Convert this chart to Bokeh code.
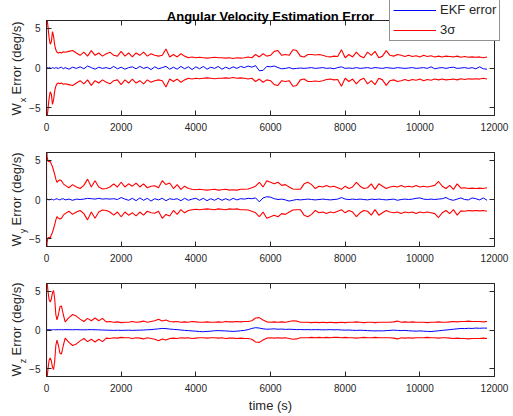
import math
from bokeh.plotting import figure
from bokeh.models import Range1d, LinearAxis, FixedTicker, Label, Legend, LegendItem
from bokeh.layouts import column
from bokeh.embed import file_html
from bokeh.resources import INLINE

# ---------------- data ----------------
x_ticks = [0, 2000, 4000, 6000, 8000, 10000, 12000]
y_ticks = [-5, 0, 5]

t_early = [0, 0, 15, 40, 70, 100, 130, 160, 190, 220, 250, 280, 320, 360, 400, 450]
t_main = list(range(500, 11801, 100))
time_s = t_early + t_main

# 3-sigma bound (upper); lower bound is its negative
sig_x = [-40, 40, 6.3, 5.2, 3.8, 3.0, 3.3, 4.6, 4.0, 2.9, 2.3, 2.0, 1.9, 2.0, 1.9, 2.05,
         2.0, 2.1, 2.2, 1.9, 1.6, 2.0, 1.5, 2.2, 1.6, 1.9,
         1.5, 1.8, 2.0, 1.6, 1.5, 2.1, 1.5, 1.9, 1.4, 1.9,
         1.6, 2.0, 1.5, 1.8, 1.6, 1.5, 1.6, 2.4, 1.4, 1.7,
         1.4, 1.8, 1.5, 1.3, 1.4, 1.3, 1.35, 1.3, 1.25, 1.3,
         1.35, 1.3, 1.3, 1.25, 1.3, 1.2, 1.3, 1.25, 1.3, 1.4,
         1.3, 1.7, 1.4, 1.8, 1.5, 1.6, 2.1, 2.2, 1.6, 1.7,
         1.6, 2.3, 2.2, 1.5, 1.4, 1.7, 1.7, 1.65, 1.7, 1.6,
         1.45, 1.4, 1.5, 1.45, 2.3, 1.3, 1.7, 1.4, 2.0, 1.5,
         1.3, 2.0, 1.6, 2.1, 1.3, 1.5, 2.2, 1.6, 1.5, 1.7,
         1.6, 1.45, 1.6, 1.45, 1.55, 1.4, 1.6, 1.45, 1.55, 1.4,
         1.5, 1.4, 1.5, 1.45, 1.4, 1.5, 1.35, 1.45, 1.35, 1.4,
         1.35, 1.4, 1.3, 1.4]
err_x = [0, 0, 0.1, -0.05, 0.05, 0, -0.05, 0.05, 0, -0.05, 0.05, 0, -0.05, 0.05, 0.1, -0.1,
         0.05, -0.15, 0.1, -0.05, 0.15, -0.1, 0.25, 0.05, -0.15, 0.1,
         -0.05, 0.05, -0.1, 0.2, -0.1, 0.1, -0.15, 0.05, 0.15, -0.1,
         0.2, -0.05, 0.1, -0.2, 0.15, -0.1, 0.05, 0.2, -0.15, 0.1,
         -0.15, 0.2, -0.1, 0.15, -0.2, 0.15, -0.1, 0.2, -0.15, 0.1,
         -0.05, 0.2, -0.15, 0.1, -0.1, 0.15, -0.05, 0.2, 0.05, 0.25,
         0.1, 0.3, -0.35, -0.3, 0.2, 0.15, 0.25, 0.05, -0.1, -0.05,
         0.05, -0.1, -0.05, 0.0, -0.05, 0.0, 0.05, -0.05, 0.0, 0.05,
         -0.05, 0.0, -0.1, 0.05, 0.15, -0.05, 0.0, -0.05, 0.05, -0.05,
         0.0, 0.05, -0.05, 0.05, 0.0, -0.05, 0.05, 0.0, -0.05, 0.05,
         0.0, -0.05, 0.0, 0.05, -0.05, 0.0, 0.05, -0.05, 0.15, -0.1,
         0.0, 0.05, -0.05, 0.05, 0.1, -0.05, 0.0, 0.05, -0.05, 0.05,
         -0.1, 0.15, -0.1, -0.15]

sig_y = [-40, 40, 5.5, 4.9, 4.8, 4.9, 4.5, 4.2, 3.7, 3.2, 2.6, 2.2, 2.4, 2.5, 2.4, 2.0,
         1.8, 1.5, 1.9, 1.6, 1.4, 1.8, 2.6, 1.6, 2.4, 1.6,
         1.35, 1.4, 1.6, 2.0, 1.6, 2.2, 1.6, 2.0, 1.7, 2.1,
         1.6, 2.0, 1.5, 1.7, 1.75, 1.5, 2.4, 1.9, 2.1, 1.4,
         1.9, 1.3, 1.7, 1.4, 1.3, 1.25, 1.3, 1.25, 1.2, 1.25,
         1.3, 1.2, 1.25, 1.3, 1.2, 1.25, 1.2, 1.3, 1.3, 1.35,
         1.5, 1.7, 2.2, 1.6, 2.4, 2.2, 2.0, 2.2, 1.8, 1.9,
         1.6, 1.35, 1.3, 1.3, 2.0, 2.2, 1.9, 1.4, 1.7, 1.6,
         1.8, 1.6, 1.7, 1.5, 1.3, 1.7, 1.4, 1.6, 2.2, 1.7,
         1.4, 1.5, 2.0, 1.3, 2.0, 1.7, 1.4, 1.6, 1.7, 1.6,
         1.8, 1.6, 1.7, 1.6, 1.8, 1.6, 1.7, 1.6, 1.7, 1.8,
         2.3, 1.7, 1.4, 1.8, 1.3, 2.0, 1.45, 1.5, 1.4, 1.45,
         1.4, 1.45, 1.4, 1.5]
err_y = [0, 0, 0.05, 0, -0.05, 0, 0.05, 0, -0.05, 0, 0.05, 0.1, 0, -0.05, 0.05, 0.1,
         -0.05, 0.05, -0.1, 0.05, 0.0, 0.05, 0.15, 0.1, 0.05, 0.15,
         0.05, 0.1, 0.05, 0.1, 0.0, 0.25, 0.05, -0.1, 0.15, -0.15,
         0.2, -0.1, 0.15, -0.2, 0.1, -0.05, 0.15, -0.15, 0.1, 0.0,
         0.1, -0.15, 0.15, -0.1, 0.05, 0.15, -0.1, 0.15, -0.15, 0.1,
         -0.1, 0.15, -0.1, 0.1, -0.1, 0.15, -0.05, 0.1, 0.05, 0.15,
         0.1, 0.2, -0.3, 0.2, 0.35, 0.3, 0.1, 0.0, 0.05, -0.05,
         -0.2, -0.1, 0.0, -0.05, 0.0, 0.05, 0.0, -0.05, 0.0, 0.05,
         0.0, -0.05, 0.0, 0.05, 0.25, 0.05, 0.0, 0.05, 0.0, 0.05,
         0.0, -0.05, 0.05, 0.0, 0.05, 0.0, -0.05, 0.0, 0.05, -0.1,
         0.0, 0.05, 0.0, 0.05, 0.15, 0.2, 0.05, 0.0, 0.05, 0.0,
         0.05, 0.1, 0.25, 0.0, -0.1, 0.05, 0.2, 0.0, -0.05, 0.2,
         0.1, -0.05, 0.2, -0.1]

sig_z = [-40, 40, 6.3, 5.0, 3.9, 3.6, 4.0, 4.8, 5.1, 4.0, 2.0, 1.3, 2.0, 3.0, 3.1, 2.0,
         1.05, 1.6, 2.0, 1.8, 1.4, 1.1, 1.5, 1.2, 1.55, 1.2,
         1.5, 1.05, 1.1, 1.0, 1.05, 0.95, 1.0, 1.0, 1.1, 1.0,
         1.05, 1.15, 1.0, 1.1, 1.2, 1.4, 1.15, 1.3, 1.1, 1.05,
         1.1, 1.0, 1.05, 1.0, 1.1, 1.05, 1.0, 1.0, 1.05, 1.0,
         1.0, 1.05, 1.0, 1.1, 1.05, 1.05, 1.1, 1.05, 1.1, 1.1,
         1.2, 1.55, 1.6, 1.3, 1.05, 1.0, 1.05, 1.0, 1.05, 1.0,
         1.1, 1.2, 1.15, 1.0, 1.0, 1.0, 0.95, 1.0, 0.95, 1.0,
         0.95, 1.0, 0.95, 0.95, 1.0, 0.95, 1.0, 1.0, 1.05, 1.0,
         0.95, 1.0, 1.0, 0.95, 1.0, 1.0, 1.0, 1.0, 1.05, 1.15,
         1.0, 1.05, 1.0, 1.05, 1.0, 1.0, 1.0, 0.95, 1.0, 1.0,
         1.05, 1.0, 1.0, 1.05, 1.1, 1.05, 1.1, 1.1, 1.15, 1.1,
         1.1, 1.1, 1.05, 1.1]
err_z = [0, 0, 0.02, 0.05, 0.03, 0.05, 0.04, 0.03, 0.05, 0.04, 0.02, 0.05, 0.03, 0.05, 0.04, 0.03,
         0.05, 0.04, 0.03, 0.05, 0.03, 0.02, 0.04, 0.05, 0.03, 0.02,
         0.0, -0.02, -0.03, -0.05, -0.03, -0.05, -0.04, -0.02, -0.05, -0.03,
         -0.02, 0.0, 0.03, 0.05, 0.1, 0.15, 0.2, 0.18, 0.12, 0.08,
         0.05, 0.0, -0.05, -0.08, -0.12, -0.15, -0.2, -0.22, -0.18, -0.15,
         -0.1, -0.08, -0.1, -0.12, -0.15, -0.18, -0.15, -0.1, -0.05, 0.05,
         0.2, 0.3, 0.25, 0.15, 0.1, 0.12, 0.15, 0.1, 0.12, 0.08,
         0.1, 0.08, 0.05, 0.06, 0.04, 0.05, 0.03, 0.05, 0.04, 0.02,
         0.03, 0.05, 0.02, 0.04, 0.0, -0.02, 0.0, -0.04, -0.05, -0.03,
         -0.05, -0.08, -0.1, -0.12, -0.1, -0.12, -0.08, -0.05, -0.02, -0.05,
         -0.08, -0.05, -0.1, -0.12, -0.15, -0.12, -0.15, -0.18, -0.2, -0.15,
         -0.1, -0.05, 0.0, 0.05, 0.1, 0.15, 0.2, 0.18, 0.22, 0.2,
         0.25, 0.22, 0.25, 0.24]

title_text = "Angular Velocity Estimation Error"
xlabel_text = "time (s)"
axis_subs = ["x", "y", "z"]
legend_labels = ["EKF error", "3σ"]

# ---------------- styling ----------------
AX = "#262626"
FONT = "Liberation Sans"
W = 510
H = 414


def style_axis(ax, ticks, show_labels):
    ax.ticker = FixedTicker(ticks=ticks)
    ax.major_tick_in = 5
    ax.major_tick_out = 0
    ax.minor_tick_line_color = None
    ax.axis_line_color = AX
    ax.major_tick_line_color = AX
    ax.major_label_text_font = FONT
    if show_labels:
        ax.major_label_text_color = AX
        ax.major_label_text_font_size = "10px"
    else:
        ax.major_label_text_color = None
        ax.major_label_text_font_size = "1px"
        ax.major_label_standoff = 0


def make_fig(height, top, bottom, sig, err):
    p = figure(width=W, height=height, x_range=Range1d(0, 12000), y_range=Range1d(-6, 6),
               output_backend="svg", toolbar_location=None,
               min_border_left=46, min_border_right=W - 494, min_border_top=top, min_border_bottom=bottom,
               background_fill_color="white", border_fill_color="white")
    p.grid.visible = False
    p.outline_line_color = AX
    p.outline_line_width = 1
    style_axis(p.xaxis[0], x_ticks, True)
    p.xaxis[0].major_label_standoff = 7
    style_axis(p.yaxis[0], y_ticks, True)
    p.yaxis[0].major_label_standoff = 6
    ax_top = LinearAxis()
    style_axis(ax_top, x_ticks, False)
    p.add_layout(ax_top, "above")
    ax_right = LinearAxis()
    style_axis(ax_right, y_ticks, False)
    p.add_layout(ax_right, "right")

    lower = [-v for v in sig]
    p.line(time_s, err, line_color="#0000ff", line_width=1)
    p.line(time_s, sig, line_color="#ff0000", line_width=1.1)
    p.line(time_s, lower, line_color="#ff0000", line_width=1.1)
    return p


# frames: subplot 1 y 20..115, subplot 2 y 152..246, subplot 3 y 283..376 (page px)
p1 = make_fig(140, 20, 25, sig_x, err_x)
p2 = make_fig(130, 12, 24, sig_y, err_y)
p3 = make_fig(144, 13, 38, sig_z, err_z)
plots = column(p1, p2, p3, spacing=0)

# ---------------- text overlay (unclipped page-pixel layer) ----------------
ov = figure(width=W, height=H, x_range=Range1d(0, W), y_range=Range1d(H, 0),
            x_axis_type=None, y_axis_type=None, output_backend="svg", toolbar_location=None,
            min_border=0, background_fill_alpha=0, border_fill_alpha=0, outline_line_color=None)
ov.grid.visible = False
ov.styles = {"position": "absolute", "left": "0px", "top": "0px", "pointer-events": "none"}

ov.add_layout(Label(x=270, y=15.5, text=title_text, text_font=FONT, text_font_size="13px",
                    text_font_style="bold", text_color="#000000",
                    text_align="center", text_baseline="alphabetic"))
ov.add_layout(Label(x=270, y=405, text=xlabel_text, text_font=FONT, text_font_size="13px",
                    text_color=AX, text_align="center", text_baseline="alphabetic"))

kw = dict(angle=math.pi / 2, text_font=FONT, text_color=AX, text_baseline="middle", text_align="left")
for sub, ybot in zip(axis_subs, [115, 246, 376]):
    ov.add_layout(Label(x=16.3, y=ybot, text="W", text_font_size="13px", **kw))
    ov.add_layout(Label(x=22.7, y=ybot - 13.3, text=sub, text_font_size="9px", **kw))
    ov.add_layout(Label(x=16.3, y=ybot - 21, text="Error (deg/s)", text_font_size="13px", **kw))

# legend sample renderers: a single point each, so they draw nothing on the page
lb = ov.line([0], [0], line_color="#0000ff", line_width=1)
lr = ov.line([0], [0], line_color="#ff0000", line_width=1)
legend = Legend(items=[LegendItem(label=legend_labels[0], renderers=[lb]),
                       LegendItem(label=legend_labels[1], renderers=[lr])],
                location=(389, H - 41), padding=3, spacing=5, margin=0,
                glyph_width=43, glyph_height=14, label_height=14, label_standoff=4,
                label_text_font=FONT, label_text_font_size="13px", label_text_color=AX,
                border_line_color=AX, border_line_width=1,
                background_fill_color="white", background_fill_alpha=1.0)
ov.add_layout(legend)

open("out.html", "w").write(file_html([plots, ov], INLINE))
